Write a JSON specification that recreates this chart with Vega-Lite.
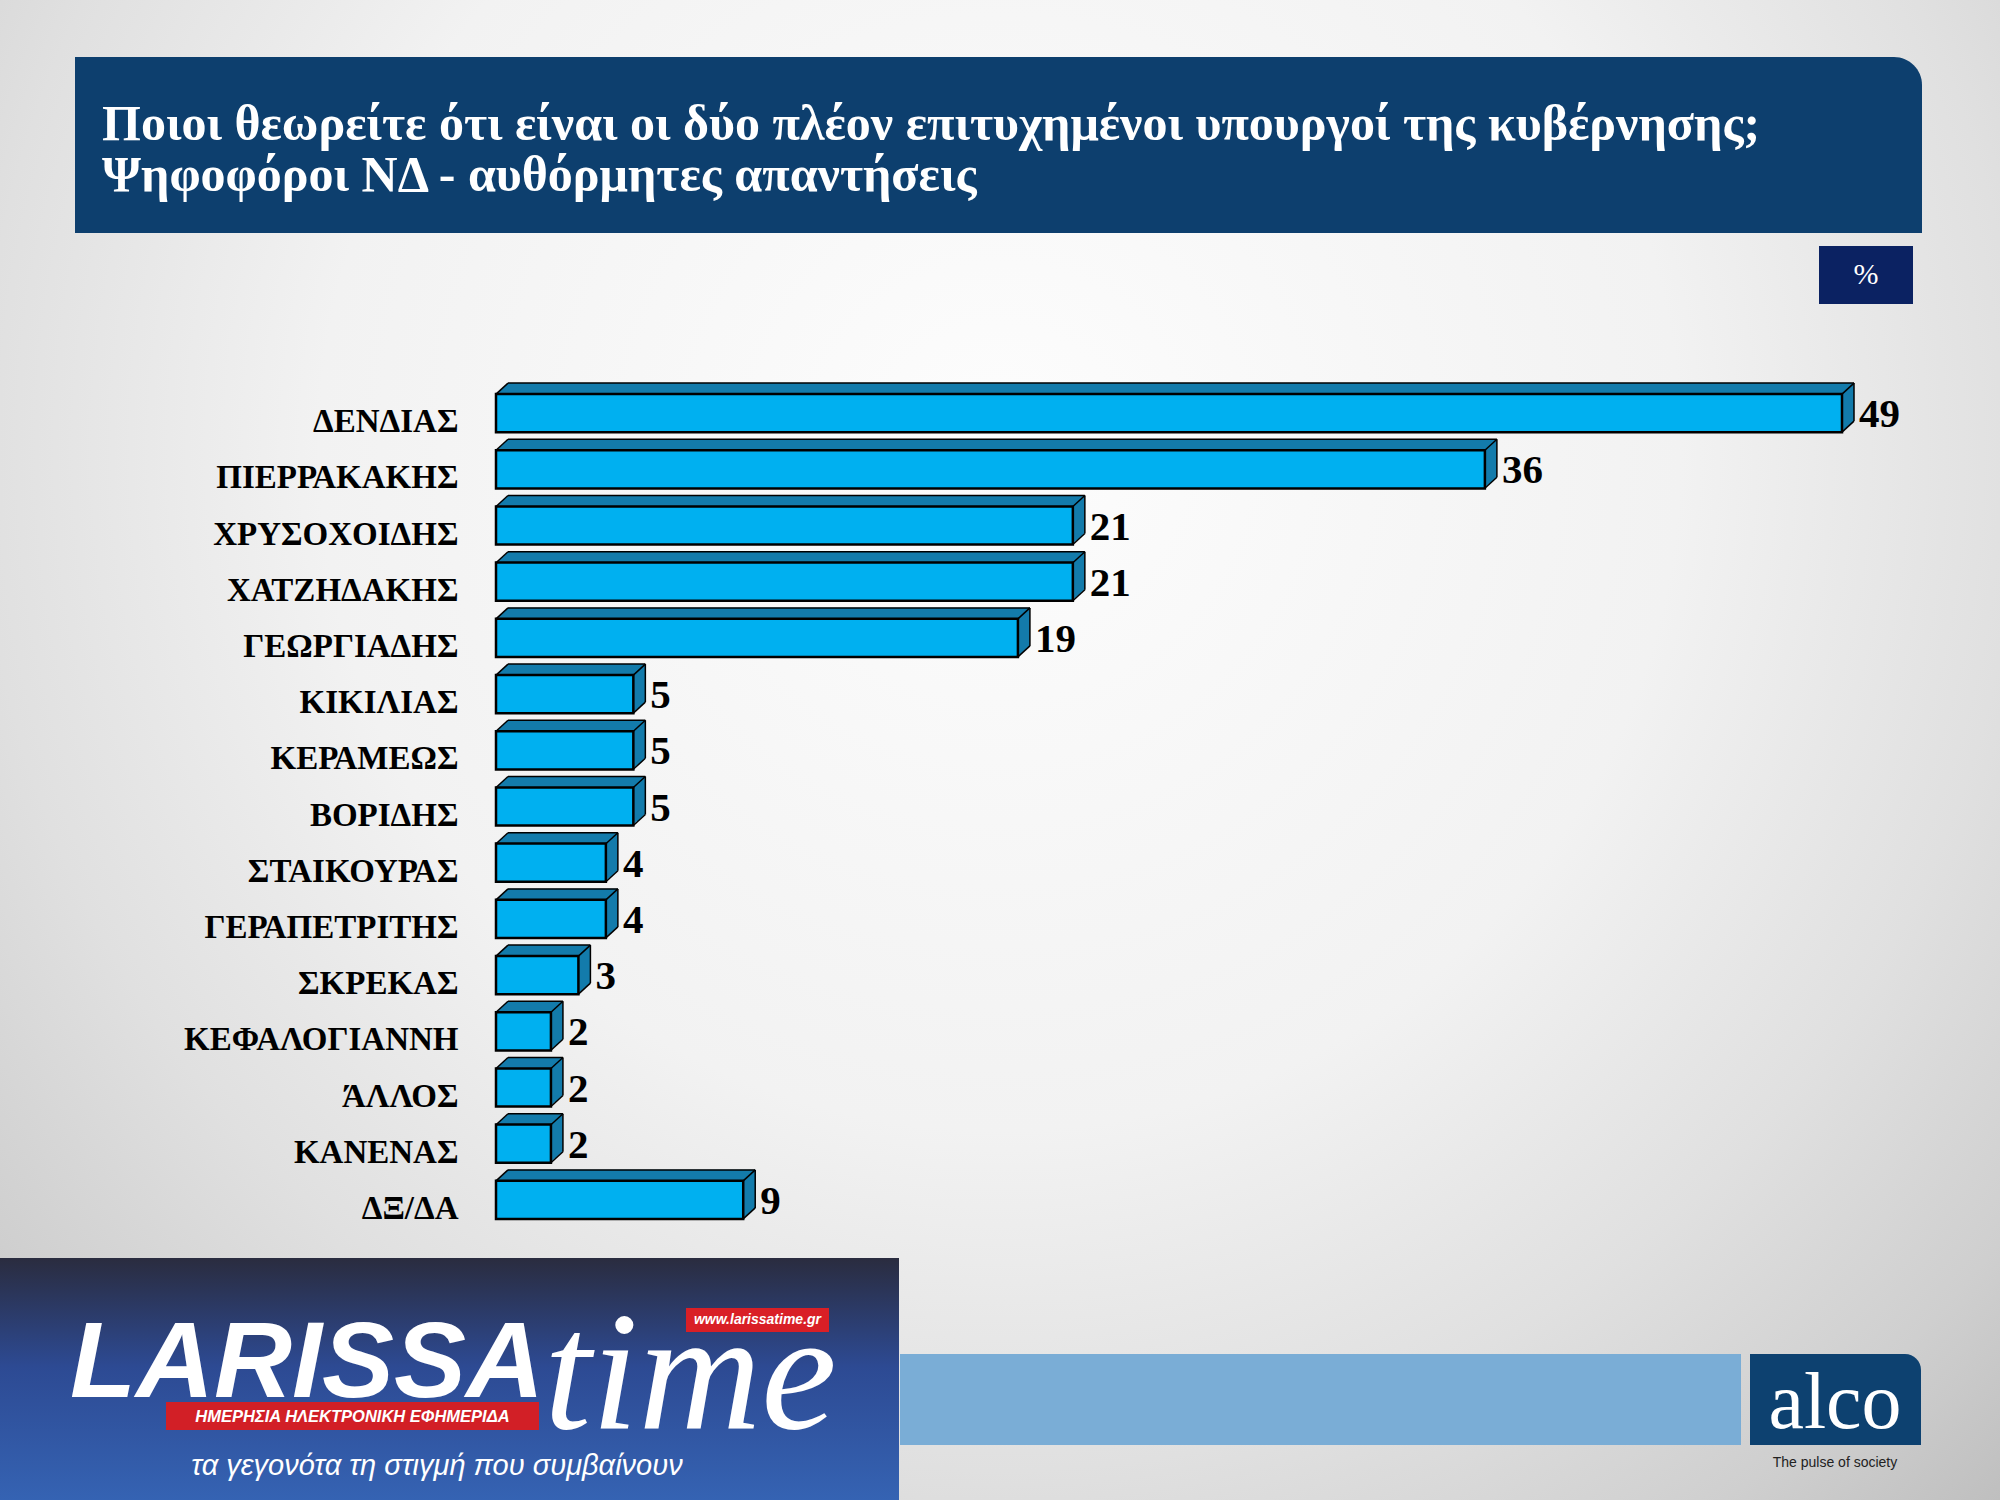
{
"$schema":"https://vega.github.io/schema/vega-lite/v6.json",
"width":1346,"height":843,
"autosize":{"type":"none"},
"padding":{"left":496,"top":385,"right":158,"bottom":272},
"background":"#d8d8d8",
"config":{"view":{"stroke":null}},
"data":{"values":[
{"name":"ΔΕΝΔΙΑΣ","value":49},
{"name":"ΠΙΕΡΡΑΚΑΚΗΣ","value":36},
{"name":"ΧΡΥΣΟΧΟΙΔΗΣ","value":21},
{"name":"ΧΑΤΖΗΔΑΚΗΣ","value":21},
{"name":"ΓΕΩΡΓΙΑΔΗΣ","value":19},
{"name":"ΚΙΚΙΛΙΑΣ","value":5},
{"name":"ΚΕΡΑΜΕΩΣ","value":5},
{"name":"ΒΟΡΙΔΗΣ","value":5},
{"name":"ΣΤΑΙΚΟΥΡΑΣ","value":4},
{"name":"ΓΕΡΑΠΕΤΡΙΤΗΣ","value":4},
{"name":"ΣΚΡΕΚΑΣ","value":3},
{"name":"ΚΕΦΑΛΟΓΙΑΝΝΗ","value":2},
{"name":"ΆΛΛΟΣ","value":2},
{"name":"ΚΑΝΕΝΑΣ","value":2},
{"name":"ΔΞ/ΔΑ","value":9}
]},
"layer":[
{"data":{"values":[{}]},"mark":{"type":"rect","fill":{"gradient":"radial","x1":0.5,"y1":0.35,"r1":0,"x2":0.5,"y2":0.35,"r2":0.85,"stops":[{"offset":0,"color":"#fdfdfd"},{"offset":0.4,"color":"#f2f2f2"},{"offset":0.6,"color":"#e0e0e0"},{"offset":0.75,"color":"#cfcfcf"},{"offset":1,"color":"#a8a8a8"}]}},
 "encoding":{"x":{"value":-496},"x2":{"value":1504},"y":{"value":-385},"y2":{"value":1115}}},
{"data":{"values":[{}]},"mark":{"type":"rect","fill":"#0d3f6e","cornerRadiusTopRight":28},
 "encoding":{"x":{"value":-421},"x2":{"value":1426},"y":{"value":-328},"y2":{"value":-152}}},
{"data":{"values":[{"t":"Ποιοι θεωρείτε ότι είναι οι δύο πλέον επιτυχημένοι υπουργοί της κυβέρνησης;\nΨηφοφόροι ΝΔ - αυθόρμητες απαντήσεις"}]},
 "mark":{"type":"text","align":"left","baseline":"alphabetic","lineBreak":"\n","lineHeight":51,"font":"Liberation Serif","fontWeight":"bold","fontSize":50,"fill":"#ffffff"},
 "encoding":{"text":{"field":"t"},"x":{"value":-394},"y":{"value":-245}}},
{"data":{"values":[{}]},"mark":{"type":"rect","fill":"#0b2262"},
 "encoding":{"x":{"value":1323},"x2":{"value":1417},"y":{"value":-139},"y2":{"value":-81}}},
{"data":{"values":[{"t":"%"}]},"mark":{"type":"text","align":"center","baseline":"middle","font":"Liberation Serif","fontSize":30,"fill":"#ffffff"},
 "encoding":{"text":{"field":"t"},"x":{"value":1370},"y":{"value":-110}}},
{"encoding":{
  "y":{"field":"name","type":"nominal","sort":null,"scale":{"paddingInner":0.32,"paddingOuter":0.16},
       "axis":{"title":null,"domain":false,"ticks":false,"grid":false,"labelFont":"Liberation Serif","labelFontWeight":"bold","labelFontSize":33,"labelColor":"#000000","labelPadding":38,"labelBaseline":"alphabetic","labelOffset":19,"labelLimit":0,"zindex":1}},
  "x":{"field":"value","type":"quantitative","scale":{"domain":[0,49],"nice":false,"zero":true},"axis":null}},
 "layer":[
  {"mark":{"type":"bar","fill":"#137bab","xOffset":1,"x2Offset":1,"yOffset":-1,"y2Offset":-1}},
  {"mark":{"type":"bar","fill":"#137bab","xOffset":2,"x2Offset":2,"yOffset":-2,"y2Offset":-2}},
  {"mark":{"type":"bar","fill":"#137bab","xOffset":3,"x2Offset":3,"yOffset":-3,"y2Offset":-3}},
  {"mark":{"type":"bar","fill":"#137bab","xOffset":4,"x2Offset":4,"yOffset":-4,"y2Offset":-4}},
  {"mark":{"type":"bar","fill":"#137bab","xOffset":5,"x2Offset":5,"yOffset":-4.6,"y2Offset":-4.6}},
  {"mark":{"type":"bar","fill":"#137bab","xOffset":6,"x2Offset":6,"yOffset":-5.5,"y2Offset":-5.5}},
  {"mark":{"type":"bar","fill":"#137bab","xOffset":7,"x2Offset":7,"yOffset":-6.4,"y2Offset":-6.4}},
  {"mark":{"type":"bar","fill":"#137bab","xOffset":8,"x2Offset":8,"yOffset":-7.3,"y2Offset":-7.3}},
  {"mark":{"type":"bar","fill":"#137bab","xOffset":9,"x2Offset":9,"yOffset":-8.2,"y2Offset":-8.2}},
  {"mark":{"type":"bar","fill":"#137bab","xOffset":10,"x2Offset":10,"yOffset":-9.2,"y2Offset":-9.2}},
  {"mark":{"type":"bar","fill":"#137bab","xOffset":11,"x2Offset":11,"yOffset":-10.1,"y2Offset":-10.1}},
  {"mark":{"type":"bar","fill":"#137bab","xOffset":12,"x2Offset":12,"yOffset":-11,"y2Offset":-11}},
  {"mark":{"type":"bar","fill":"#00b0f0","stroke":"#000000","strokeWidth":2.5}},
  {"mark":{"type":"rule","stroke":"#000000","strokeWidth":1.5,"xOffset":12,"x2Offset":12,"yOffset":-30}, "encoding":{"x":{"datum":0},"x2":{"field":"value"}}},
  {"mark":{"type":"rule","stroke":"#000000","strokeWidth":1.5,"xOffset":12,"yOffset":-30,"y2Offset":8}, "encoding":{"y2":{"field":"name"}}},
  {"mark":{"type":"rule","stroke":"#000000","strokeWidth":1.5,"x2Offset":12,"yOffset":-19,"y2Offset":-30}, "encoding":{"x":{"datum":0},"x2":{"datum":0},"y2":{"field":"name"}}},
  {"mark":{"type":"rule","stroke":"#000000","strokeWidth":1.5,"x2Offset":12,"yOffset":-19,"y2Offset":-30}, "encoding":{"x2":{"field":"value"},"y2":{"field":"name"}}},
  {"mark":{"type":"rule","stroke":"#000000","strokeWidth":1.5,"x2Offset":12,"yOffset":19,"y2Offset":8}, "encoding":{"x2":{"field":"value"},"y2":{"field":"name"}}},
  {"mark":{"type":"text","align":"left","baseline":"alphabetic","dx":17,"dy":14,"font":"Liberation Serif","fontWeight":"bold","fontSize":41,"fill":"#000000"},
   "encoding":{"text":{"field":"value","type":"quantitative"}}}
 ]},
{"data":{"values":[{}]},"mark":{"type":"rect","fill":{"gradient":"linear","x1":0,"y1":0,"x2":0,"y2":1,"stops":[{"offset":0,"color":"#2a2c3f"},{"offset":0.45,"color":"#2d4a93"},{"offset":1,"color":"#3563b3"}]}},
 "encoding":{"x":{"value":-496},"x2":{"value":403},"y":{"value":873},"y2":{"value":1115}}},
{"data":{"values":[{"t":"LARISSA"}]},"mark":{"type":"text","align":"left","baseline":"alphabetic","font":"Liberation Sans","fontWeight":"bold","fontStyle":"italic","fontSize":108,"fill":"#ffffff"},
 "encoding":{"text":{"field":"t"},"x":{"value":-426},"y":{"value":1012}}},
{"data":{"values":[{"t":"time"}]},"mark":{"type":"text","align":"left","baseline":"alphabetic","font":"Liberation Serif","fontStyle":"italic","fontSize":170,"fill":"#ffffff"},
 "encoding":{"text":{"field":"t"},"x":{"value":48},"y":{"value":1043}}},
{"data":{"values":[{}]},"mark":{"type":"rect","fill":"#d91f26"},
 "encoding":{"x":{"value":190},"x2":{"value":333},"y":{"value":923},"y2":{"value":947}}},
{"data":{"values":[{"t":"www.larissatime.gr"}]},"mark":{"type":"text","align":"center","baseline":"middle","font":"Liberation Sans","fontWeight":"bold","fontStyle":"italic","fontSize":14,"fill":"#ffffff"},
 "encoding":{"text":{"field":"t"},"x":{"value":261.5},"y":{"value":935}}},
{"data":{"values":[{}]},"mark":{"type":"rect","fill":"#d21f26"},
 "encoding":{"x":{"value":-330},"x2":{"value":43},"y":{"value":1017},"y2":{"value":1045}}},
{"data":{"values":[{"t":"ΗΜΕΡΗΣΙΑ ΗΛΕΚΤΡΟΝΙΚΗ ΕΦΗΜΕΡΙΔΑ"}]},"mark":{"type":"text","align":"center","baseline":"middle","font":"Liberation Sans","fontWeight":"bold","fontStyle":"italic","fontSize":16.5,"fill":"#ffffff"},
 "encoding":{"text":{"field":"t"},"x":{"value":-143.5},"y":{"value":1031.5}}},
{"data":{"values":[{"t":"τα γεγονότα τη στιγμή που συμβαίνουν"}]},"mark":{"type":"text","align":"center","baseline":"alphabetic","font":"Liberation Sans","fontStyle":"italic","fontSize":29,"fill":"#ffffff"},
 "encoding":{"text":{"field":"t"},"x":{"value":-59},"y":{"value":1090}}},
{"data":{"values":[{}]},"mark":{"type":"rect","fill":"#7aadd6"},
 "encoding":{"x":{"value":404},"x2":{"value":1245},"y":{"value":969},"y2":{"value":1060}}},
{"data":{"values":[{}]},"mark":{"type":"rect","fill":"#0d4170","cornerRadiusTopRight":16},
 "encoding":{"x":{"value":1254},"x2":{"value":1425},"y":{"value":969},"y2":{"value":1060}}},
{"data":{"values":[{"t":"alco"}]},"mark":{"type":"text","align":"center","baseline":"alphabetic","font":"Liberation Serif","fontSize":80,"fill":"#ffffff"},
 "encoding":{"text":{"field":"t"},"x":{"value":1339},"y":{"value":1043}}},
{"data":{"values":[{"t":"The pulse of society"}]},"mark":{"type":"text","align":"center","baseline":"alphabetic","font":"Liberation Sans","fontSize":14,"fill":"#222222"},
 "encoding":{"text":{"field":"t"},"x":{"value":1339},"y":{"value":1082}}}
]
}
